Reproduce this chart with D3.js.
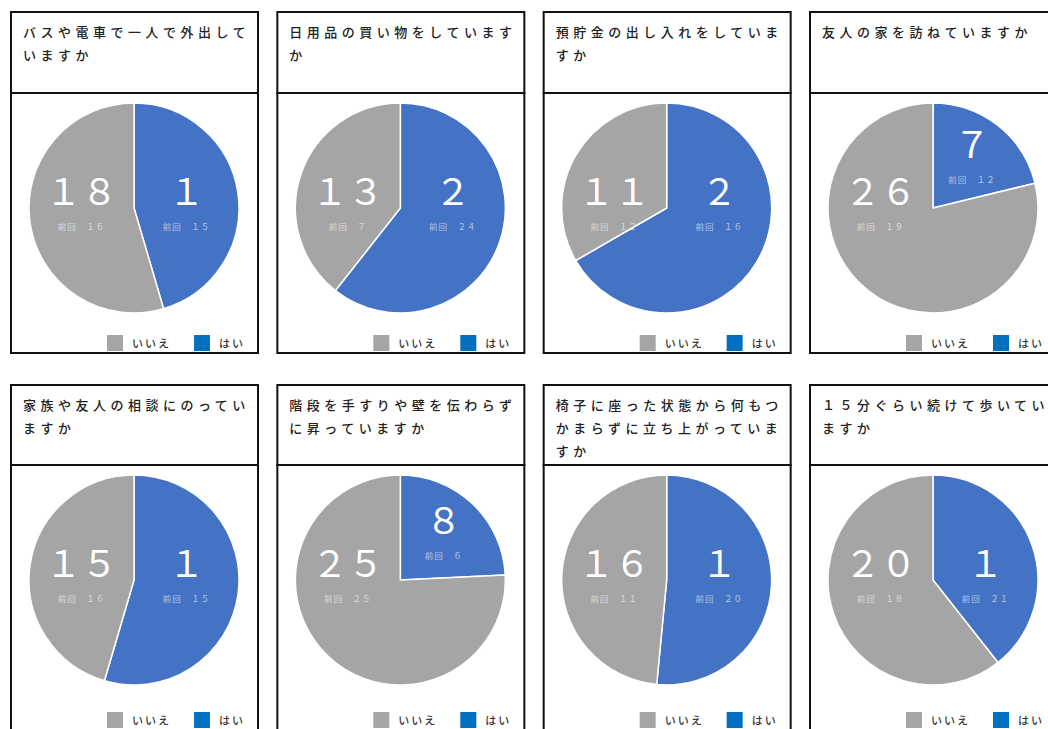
<!DOCTYPE html>
<html>
<head>
<meta charset="utf-8">
<script src="https://cdn.jsdelivr.net/npm/d3@7"></script>
<style>
  body { margin: 0; background: #fff; }
  svg { display: block; }
</style>
</head>
<body>
<svg width="1048" height="729"></svg>
<script>
// Questions, one per panel (row by row)
const titles = [
  "バスや電車で一人で外出していますか",
  "日用品の買い物をしていますか",
  "預貯金の出し入れをしていますか",
  "友人の家を訪ねていますか",
  "家族や友人の相談にのっていますか",
  "階段を手すりや壁を伝わらずに昇っていますか",
  "椅子に座った状態から何もつかまらずに立ち上がっていますか",
  "１５分ぐらい続けて歩いていますか"
];

const yesValues = [15, 20, 22, 7, 18, 8, 17, 13];
const noValues = [18, 13, 11, 26, 15, 25, 16, 20];

// big labels as they appear in the picture
const yesLabels = ["1", "2", "2", "7", "1", "8", "1", "1"];
const noLabels = ["18", "13", "11", "26", "15", "25", "16", "20"];

// previous survey ("前回")
const prevYes = [15, 24, 16, 12, 15, 6, 20, 21];
const prevNo = [16, 7, 12, 19, 16, 25, 11, 18];

const legendLabels = ["いいえ", "はい"];

const colors = { no: "#a5a5a5", yes: "#4472c4" };
const legendColors = ["#a5a5a5", "#0070c0"];

const svg = d3.select("svg");
const jp = "'Noto Sans CJK JP', sans-serif";

function fullWidth(s) {
  return String(s).replace(/[0-9]/g, c => String.fromCharCode(c.charCodeAt(0) + 0xFEE0));
}

function wrap(text, n) {
  const chars = Array.from(text);
  const lines = [];
  for (let i = 0; i < chars.length; i += n) lines.push(chars.slice(i, i + n).join(""));
  return lines;
}

// grid
const colX = d3.scaleLinear().domain([0, 3]).range([11, 810]);
const rows = [
  { top: 12, divider: 93, bottom: 353, legend: 335 },
  { top: 385, divider: 465, bottom: 740, legend: 712 }
];
const panelW = 247;
const radius = 105;

const pie = d3.pie().sort(null).value(d => d.value);
const arc = d3.arc().innerRadius(0).outerRadius(radius);

titles.forEach(function (title, i) {
  const row = rows[Math.floor(i / 4)];
  const x0 = colX(i % 4);
  const g = svg.append("g").attr("transform", "translate(" + x0 + ",0)");

  // boxes
  g.append("rect")
      .attr("x", 0).attr("y", row.top)
      .attr("width", panelW).attr("height", row.divider - row.top)
      .attr("fill", "#fff").attr("stroke", "#111").attr("stroke-width", 2);
  g.append("rect")
      .attr("x", 0).attr("y", row.divider)
      .attr("width", panelW).attr("height", row.bottom - row.divider)
      .attr("fill", "#fff").attr("stroke", "#111").attr("stroke-width", 2);

  // title
  g.append("text")
      .attr("font-family", jp)
      .attr("font-size", "13px")
      .attr("font-weight", 500)
      .attr("letter-spacing", "4.5px")
      .attr("fill", "#222")
      .selectAll("tspan")
      .data(wrap(title, 13)).enter()
      .append("tspan")
        .attr("x", 12)
        .attr("y", (d, k) => row.top + 25 + k * 23)
        .text(d => d);

  // pie
  const cx = 123, cy = row.divider + 115;
  const data = [
    { key: "yes", value: yesValues[i], label: yesLabels[i], prev: prevYes[i] },
    { key: "no", value: noValues[i], label: noLabels[i], prev: prevNo[i] }
  ];
  const arcs = pie(data);
  const pg = g.append("g").attr("transform", "translate(" + cx + "," + cy + ")");

  pg.selectAll("path")
      .data(arcs).enter()
      .append("path")
        .attr("d", arc)
        .attr("fill", d => colors[d.data.key])
        .attr("stroke", "#fff")
        .attr("stroke-width", 1.5)
        .attr("stroke-linejoin", "round");

  // labels: big slices side by side, small slice at centroid
  const total = yesValues[i] + noValues[i];
  const labelPos = function (d) {
    if (d.data.key === "no") return [-0.5 * radius, -3];
    if (d.data.value / total < 0.3) {
      const c = d3.arc().innerRadius(0).outerRadius(radius * 1.2).centroid(d);
      return [c[0], c[1]];
    }
    return [0.5 * radius, -3];
  };

  const lg = pg.selectAll("g.label")
      .data(arcs).enter()
      .append("g")
        .attr("class", "label")
        .attr("transform", d => "translate(" + labelPos(d) + ")");

  lg.append("text")
      .attr("text-anchor", "middle")
      .attr("font-family", jp)
      .attr("font-size", "36px")
      .attr("fill", "#fff")
      .text(d => fullWidth(d.data.label));

  lg.append("text")
      .attr("text-anchor", "middle")
      .attr("y", 25)
      .attr("font-family", jp)
      .attr("font-size", "8.5px")
      .attr("letter-spacing", "1px")
      .attr("fill", "#fff")
      .attr("fill-opacity", 0.6)
      .text(d => "前回　" + fullWidth(d.data.prev));

  // legend
  const leg = g.selectAll("g.legend")
      .data(legendLabels).enter()
      .append("g")
        .attr("class", "legend")
        .attr("transform", (d, k) => "translate(" + (k === 0 ? 96 : 183) + "," + row.legend + ")");
  leg.append("rect")
      .attr("width", 16).attr("height", 16)
      .attr("fill", (d, k) => legendColors[k]);
  leg.append("text")
      .attr("x", 25)
      .attr("y", 12.5)
      .attr("font-family", jp)
      .attr("font-size", "11px")
      .attr("font-weight", 500)
      .attr("letter-spacing", "2px")
      .attr("fill", "#333")
      .text(d => d);
});
</script>
</body>
</html>
